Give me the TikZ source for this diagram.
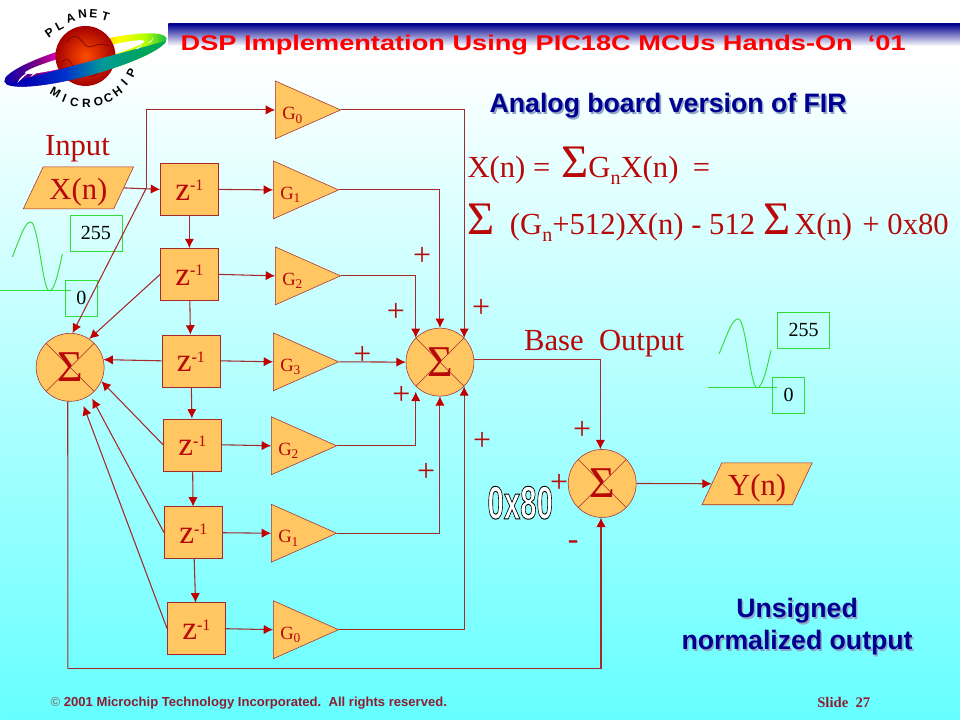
\documentclass[tikz,border=0pt]{standalone}
\usepackage{fontspec}
\setmainfont{Liberation Serif}
\setsansfont{Liberation Sans}
\usetikzlibrary{arrows.meta,shapes.geometric,calc}
\newcommand{\fs}[1]{\fontsize{#1}{#1}\selectfont}
\newcommand{\zinv}{z\raisebox{7pt}{\fs{12}\textbf{-}1}}
\newcommand{\gain}[1]{G\raisebox{-.2em}{\fs{10}#1}}
\newcommand{\low}[1]{\raisebox{-.22em}{\fs{15}#1}}
\newcommand{\bigsum}{{\fs{35}Σ}}
\newcommand{\shady}[1]{\makebox[0pt][l]{\hspace{1.2pt}\raisebox{-1.2pt}{\color{shadowcol}#1}}#1}
\definecolor{panelcol}{HTML}{FFC662}
\definecolor{linecol}{HTML}{A52A2A}
\definecolor{tipcol}{HTML}{C00000}
\definecolor{textcol}{HTML}{B80808}
\definecolor{wavecol}{HTML}{33DD33}
\definecolor{navycol}{HTML}{000090}
\definecolor{shadowcol}{HTML}{8FA8C8}
\definecolor{seacol}{HTML}{66FFFF}
\definecolor{footcol}{HTML}{8C1E32}
\pgfdeclarehorizontalshading{ringshade}{100bp}{color(0bp)=(blue!70!black); color(25bp)=(blue!70!black); color(36bp)=(violet); color(43bp)=(magenta!80!red); color(50bp)=(orange); color(60bp)=(yellow); color(68bp)=(yellow!70!green); color(75bp)=(teal!60!green); color(100bp)=(teal!60!green)}
\pgfdeclarehorizontalshading{frontshade}{100bp}{color(0bp)=(blue!70!black); color(32bp)=(blue!70!black); color(44bp)=(blue!60!teal); color(55bp)=(teal!80!cyan); color(68bp)=(teal!70!green); color(100bp)=(teal!60!green)}
\begin{document}
\begin{tikzpicture}[x=0.75pt, y=-0.75pt,
  delay/.style={rectangle, draw=linecol, fill=panelcol, text=textcol, minimum width=43.5pt, minimum height=39pt, inner sep=0pt, text height=16pt, text depth=0pt, font=\fs{25}},
  amp/.style={isosceles triangle, isosceles triangle stretches, shape border rotate=0, draw=linecol, fill=panelcol, text=textcol, minimum width=43.5pt, minimum height=49pt, inner sep=0pt, text height=14pt, text depth=0pt, font=\fs{14}},
  sum/.style={circle, draw=linecol, fill=panelcol, text=textcol, minimum size=51pt, inner sep=0pt, font=\fs{33}, path picture={\draw[linecol] (path picture bounding box.south west) -- (path picture bounding box.north east) (path picture bounding box.north west) -- (path picture bounding box.south east);}},
  port/.style={trapezium, trapezium left angle=61, trapezium right angle=119, trapezium stretches, draw=linecol, fill=panelcol, text=textcol, minimum width=83pt, minimum height=31.5pt, inner sep=0pt, text height=20pt, text depth=2pt, font=\fs{23}},
  level/.style={rectangle, draw=wavecol, text=black, inner sep=0pt, font=\fs{15}},
  plusmark/.style={text=textcol, inner sep=0pt, yshift=-1.5pt, font=\fs{24}},
  word/.style={text=textcol, inner sep=0pt, font=\fs{23}},
  link/.style={draw=linecol, line width=0.8pt, -{Latex[length=7pt,width=7pt,color=tipcol]}},
  wave/.style={draw=wavecol, line width=0.7pt},
  emblem/.style={inner sep=0pt, font=\sffamily\bfseries\fs{9}}]
  \fill[white] (0,0) rectangle (960,60);
  \shade[top color=white, bottom color=seacol] (0,60) rectangle (960,720);
  \shade[top color=navycol, bottom color=white] (168,24) rectangle (960,46);

  \begin{scope}[shift={(85,60)}, rotate=15]
    \shade[shading=ringshade] (0,0) ellipse (84 and 16);
    \fill[white] (0,-3) ellipse (62 and 5.5);
  \end{scope}
  \shade[inner color=orange!60!red, outer color=red!65!black] (85,56) circle (30);
  \draw[red!45!black, line width=0.7pt, opacity=.7] (66,42) .. controls (72,34) and (76,34) .. (84,44) .. controls (90,52) and (96,40) .. (108,46);
  \draw[red!45!black, line width=0.7pt, opacity=.7] (62,62) .. controls (68,54) and (74,66) .. (74,76) (84,72) .. controls (90,80) and (96,76) .. (100,70);
  \begin{scope}[shift={(85,60)}, rotate=15]
    \clip (-84,2.5) rectangle (84,17);
    \shade[shading=frontshade] (0,0) ellipse (84 and 16);
  \end{scope}
  \fill[white] (17,83) .. controls (19,78) and (23,74) .. (28,73) .. controls (24,76) and (21,79) .. (17,83);
  \fill[white] (30,77) .. controls (33,72) and (38,69) .. (43,68) .. controls (39,71) and (35,74) .. (30,77);
  \fill[white] (134,49) .. controls (138,48) and (141,46) .. (142,44) .. controls (141,47) and (138,50) .. (134,49);
  \fill[white] (147,43) .. controls (150,42) and (152,40) .. (153,37) .. controls (153,40) and (151,43) .. (147,43);
  \foreach \ch/\px/\py/\tilt [count=\i] in {P/49/33/35,L/59/26/28,A/70/18/18,N/82/14/6,E/93/14/-5,T/105/17/-16}
    \node[emblem, rotate=\tilt] (up\i) at (\px,\py) {\ch};
  \foreach \ch/\px/\py/\tilt [count=\i] in {M/55/92/-30,I/64/98/-22,C/74/102/-12,R/86/103/0,O/98/102/10,C/108/98/22,H/117/92/36,I/124/83/48,P/131/73/62}
    \node[emblem, rotate=\tilt] (dn\i) at (\px,\py) {\ch};

  \node (title) at (543,45) {\scalebox{1.275}[1]{\color{red}\sffamily\bfseries\fs{16}DSP Implementation Using PIC18C MCUs Hands-On\ \ ‘01}};
  \node[text=navycol, font=\sffamily\bfseries\fs{20}] (head) at (668,107) {\shady{Analog board version of FIR}};
  \node[word, anchor=base west] (eq1) at (467,178) {X(n) =\hspace{2.5pt} \bigsum G\low{n}X(n)\hspace{5pt} =};
  \node[word, anchor=base west] (eq2) at (467,235) {\bigsum\ \ (G\low{n}+512)X(n) - 512\hspace{6pt}\bigsum\hspace{3pt}X(n)\hspace{2pt} + 0x80};
  \node[text=navycol, font=\sffamily\bfseries\fs{20}, align=center, inner sep=0pt] (note) at (797,628) {\shady{Unsigned}\\[4pt]\shady{normalized output}};
  \node[text=footcol, font=\sffamily\bfseries\fs{9.8}, anchor=west, inner sep=0pt] (foot) at (50,703) {{\color{gray}©} 2001 Microchip Technology Incorporated.\ \ All rights reserved.};
  \node[text=footcol, font=\bfseries\fs{11}, anchor=west, inner sep=0pt] (page) at (817,703) {Slide\ \ 27};

  \node[word] (inlabel) at (77,149) {Input};
  \node[word] (outlabel) at (604,344) {Base\ \ Output};
  \node[port] (xn) at (78,188) {X(n)};
  \node[port] (yn) at (757,484) {Y(n)};

  \node[delay] (z1) at (189,189.5) {\zinv};
  \node[delay] (z2) at (189,274.5) {\zinv};
  \node[delay] (z3) at (190.5,361) {\zinv};
  \node[delay] (z4) at (192,445) {\zinv};
  \node[delay] (z5) at (193,533) {\zinv};
  \node[delay] (z6) at (196,629) {\zinv};

  \node[amp] (g0) at (292,110) {\gain{0}};
  \node[amp] (g1) at (290,190) {\gain{1}};
  \node[amp] (g2) at (292,276) {\gain{2}};
  \node[amp] (g3) at (290,362) {\gain{3}};
  \node[amp] (g4) at (288,446) {\gain{2}};
  \node[amp] (g5) at (288,533.5) {\gain{1}};
  \node[amp] (g6) at (290,630) {\gain{0}};

  \node[sum] (s1) at (69.7,367.5) {Σ};
  \node[sum] (s2) at (439.7,362.3) {Σ};
  \node[sum] (s3) at (602,483.7) {Σ};

  \node[level, minimum width=39pt, minimum height=27pt] (hi1) at (95.5,233.5) {255};
  \node[level, minimum width=24pt, minimum height=27pt] (lo1) at (81,298) {0};
  \node[level, minimum width=39pt, minimum height=27pt] (hi2) at (803.5,330) {255};
  \node[level, minimum width=24pt, minimum height=27pt] (lo2) at (788.5,395) {0};

  \node[plusmark] (p1) at (422,255) {+};
  \node[plusmark] (p2) at (395.5,311) {+};
  \node[plusmark] (p3) at (481,307) {+};
  \node[plusmark] (p4) at (362,354) {+};
  \node[plusmark] (p5) at (401,394) {+};
  \node[plusmark] (p6) at (482,440) {+};
  \node[plusmark] (p7) at (426,471) {+};
  \node[plusmark] (p8) at (582,429) {+};
  \node[plusmark] (p9) at (559,482) {+};
  \node[plusmark] (m1) at (573,543) {-};

  \node[inner sep=0pt] (offset) at (520,503) {\scalebox{.63}[1]{\special{pdf:bcolor [1 1 1] [0 0 0]}{\sffamily\bfseries\addfontfeature{FakeBold=2}\fs{35}0x80}\special{pdf:ecolor}}};

  \coordinate (jn) at (146,188);
  \coordinate (fb) at (67.5,669);
  \coordinate (ax1) at (0,291);
  \coordinate (ax2) at (708,388);

  \draw[link] (xn.east) -- (z1.west);
  \draw[link] (jn) |- (g0.west);
  \draw[link] (jn) -- (s1.86);
  \draw[link] (z1) -- (z2);
  \draw[link] (z2) -- (z3);
  \draw[link] (z3) -- (z4);
  \draw[link] (z4) -- (z5);
  \draw[link] (z5) -- (z6);
  \draw[link] (z1.east) -- (g1.west);
  \draw[link] (z2.east) -- (g2.west);
  \draw[link] (z3.east) -- (g3.west);
  \draw[link] (z4.east) -- (g4.west);
  \draw[link] (z5.east) -- (g5.west);
  \draw[link] (z6.east) -- (g6.west);
  \draw[link] (z2.west) -- (s1.56);
  \draw[link] (z3.west) -- (s1.13);
  \draw[link] (z4.west) -- (s1.-24);
  \draw[link, shorten >=3pt] (z5.west) -- (s1.-54);
  \draw[link, shorten >=5pt] (z6.west) -- (s1.-71);
  \draw[link] (g0.east) -| (s2.45);
  \draw[link] (g1.east) -| (s2.north);
  \draw[link] (g2.east) -| (s2.135);
  \draw[link] (g3.east) -- (s2.west);
  \draw[link, shorten >=4pt] (g4.east) -| (s2.-135);
  \draw[link] (g5.east) -| (s2.south);
  \draw[link] (g6.east) -| (s2.-45);
  \draw[link] (s2.4) -| (s3.93);
  \draw[link] (s3.east) -- (yn.west);
  \draw[draw=linecol, line width=0.8pt] (s1.-94) -- (fb);
  \draw[link] (fb) -| (s3.-92);

  \draw[wave] (ax1) -- ($(ax1 -| lo1.west)+(6,0)$);
  \draw[wave] (12,257) .. controls (20,236) and (25,222) .. (30,222) .. controls (38,222) and (42,291) .. (49,291) .. controls (54,291) and (58,272) .. (62,254);
  \draw[wave] (ax2) -- ($(ax2 -| lo2.west)+(5,0)$);
  \draw[wave] (719,354) .. controls (727,335) and (732,319) .. (738,319) .. controls (746,319) and (750,388) .. (757,388) .. controls (762,388) and (766,372) .. (771,350);
\end{tikzpicture}
\end{document}
